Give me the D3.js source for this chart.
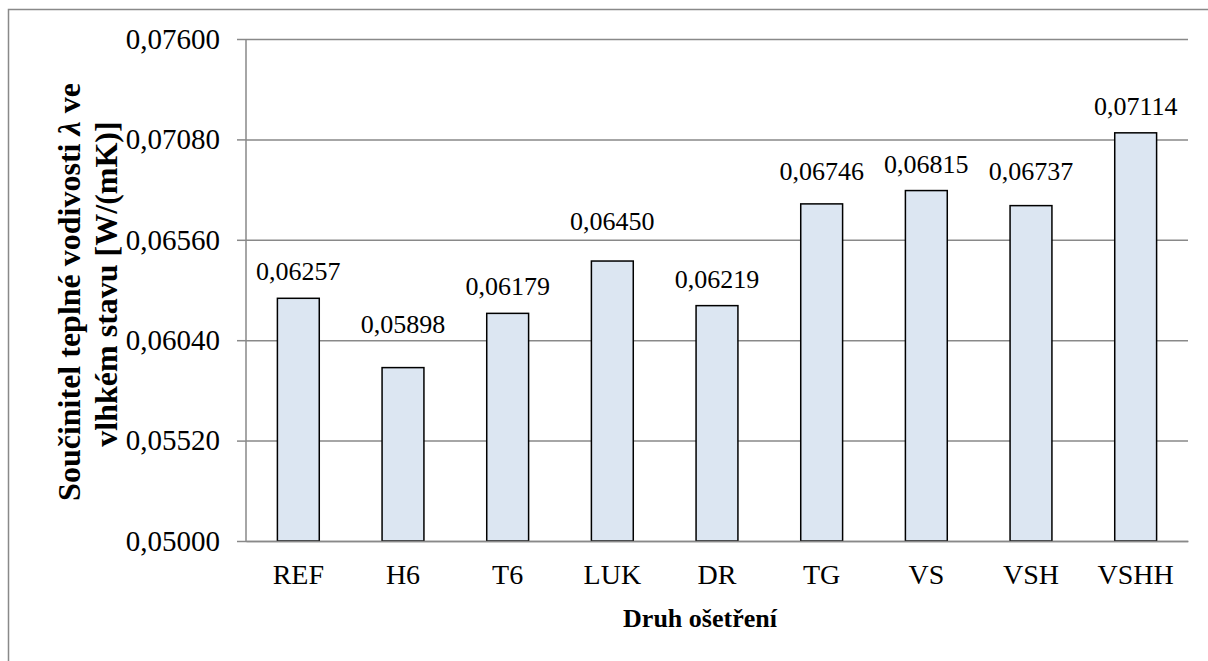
<!DOCTYPE html>
<html>
<head>
<meta charset="utf-8">
<script src="https://cdn.jsdelivr.net/npm/d3@7"></script>
<style>
  body { margin: 0; background: #fff; }
  text { font-family: 'Liberation Serif', Tinos, 'Times New Roman', Times, serif; }
</style>
</head>
<body>
<div id="chart"></div>
<script>
// data
const categories = ["REF", "H6", "T6", "LUK", "DR", "TG", "VS", "VSH", "VSHH"]
const values = [0.06257, 0.05898, 0.06179, 0.06450, 0.06219, 0.06746, 0.06815, 0.06737, 0.07114]
const yTicks = [0.05000, 0.05520, 0.06040, 0.06560, 0.07080, 0.07600]

// the labels were nudged by hand in the original, px above the bar top
const labelGap = [18, 35, 18, 31, 18, 24, 18, 26, 18]

const gridColor = "#898989",
      barFill = "#dce6f2",
      serif = "'Liberation Serif', Tinos, 'Times New Roman', Times, serif"

const w = 1208,
      h = 661,
      margin = {top: 39, left: 246},
      plotRight = 1188,
      plotBottom = 541

const fmt = v => v.toFixed(5).replace(".", ",")

const svg = d3.select("#chart").append("svg")
  .attr("width", w)
  .attr("height", h)
  .attr("font-family", serif)

// chart frame
svg.append("rect")
  .attr("x", 8.5)
  .attr("y", 9.5)
  .attr("width", 1400)
  .attr("height", 1000)
  .attr("fill", "none")
  .attr("stroke", gridColor)
  .attr("stroke-width", 1.5)

const x = d3.scaleBand()
  .domain(categories)
  .range([margin.left, plotRight])
  .paddingInner(0.6)
  .paddingOuter(0.3)

const y = d3.scaleLinear()
  .domain([0.05, 0.076])
  .range([plotBottom, margin.top])

// gridlines + y axis
const yAxis = svg.append("g")
  .attr("transform", `translate(${margin.left}, 0)`)
  .call(d3.axisLeft(y)
    .tickValues(yTicks)
    .tickFormat(fmt)
    .tickSize(9)
    .tickPadding(17))
  .attr("font-family", serif)

yAxis.select(".domain").remove()
yAxis.selectAll(".tick line")
  .attr("stroke", gridColor)
  .attr("stroke-width", 1.5)
yAxis.selectAll(".tick text")
  .attr("fill", "#000")
  .attr("font-size", 29)

yAxis.selectAll(".tick")
  .append("line")
  .attr("x1", 0)
  .attr("x2", plotRight - margin.left)
  .attr("stroke", gridColor)
  .attr("stroke-width", 1.5)

// vertical axis line
svg.append("line")
  .attr("x1", margin.left)
  .attr("x2", margin.left)
  .attr("y1", margin.top)
  .attr("y2", plotBottom)
  .attr("stroke", gridColor)
  .attr("stroke-width", 1.5)

// bars
svg.selectAll(".bar")
  .data(values)
  .join("rect")
  .attr("class", "bar")
  .attr("x", (d, i) => x(categories[i]))
  .attr("y", d => y(d))
  .attr("width", x.bandwidth())
  .attr("height", d => plotBottom - y(d))
  .attr("fill", barFill)
  .attr("stroke", "#000")
  .attr("stroke-width", 1.5)

// data labels
svg.selectAll(".val")
  .data(values)
  .join("text")
  .attr("class", "val")
  .attr("x", (d, i) => x(categories[i]) + x.bandwidth() / 2)
  .attr("y", (d, i) => y(d) - labelGap[i])
  .attr("text-anchor", "middle")
  .attr("font-size", 26)
  .text(fmt)

// x axis
const xAxis = svg.append("g")
  .attr("transform", `translate(0, ${plotBottom})`)
  .call(d3.axisBottom(x).tickSize(0).tickPadding(23))
  .attr("font-family", serif)

xAxis.select(".domain")
  .attr("stroke", gridColor)
  .attr("stroke-width", 1.5)
xAxis.selectAll(".tick text")
  .attr("fill", "#000")
  .attr("font-size", 28)

// axis titles
svg.append("text")
  .attr("x", 700)
  .attr("y", 627)
  .attr("text-anchor", "middle")
  .attr("font-size", 26)
  .attr("font-weight", "bold")
  .text("Druh ošetření")

const yTitle = svg.append("text")
  .attr("transform", "translate(80, 290) rotate(-90)")
  .attr("text-anchor", "middle")
  .attr("font-size", 32)
  .attr("font-weight", "bold")

yTitle.append("tspan")
  .attr("x", -2)
  .attr("y", 0)
  .text("Součinitel teplné vodivosti ")
yTitle.append("tspan")
  .attr("font-style", "italic")
  .text("λ")
yTitle.append("tspan")
  .text(" ve")
yTitle.append("tspan")
  .attr("x", 6)
  .attr("y", 37)
  .text("vlhkém stavu [W/(mK)]")
</script>
</body>
</html>
